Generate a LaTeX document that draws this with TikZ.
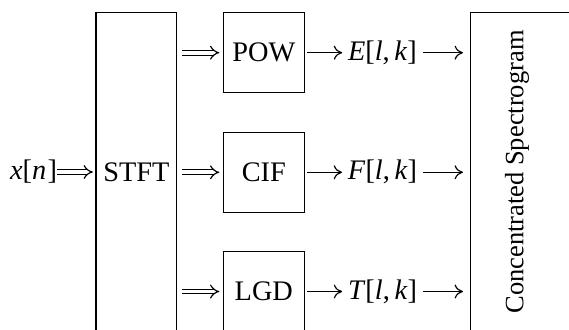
\documentclass[tikz,border=0pt]{standalone}
\usepackage{fontspec}
\setmainfont{Liberation Serif}
\usetikzlibrary{arrows.meta,positioning}
\tikzset{
	blk/.style={draw, minimum width=31.2pt, minimum height=30.8pt, inner sep=0, outer sep=0},
	tall/.style={draw, minimum height=122.8pt, inner sep=0, outer sep=0},
	txt/.style={inner sep=0, outer sep=0},
	imp/.style={double, double distance=1.4pt, -{Implies}},
	sig/.style={-{To[length=3.2pt,width=5.4pt]}}
}
\newcommand{\sgl}[1]{\textit{#1}[\textit{l},\,\textit{k}]}

\begin{document}
\begin{tikzpicture}[x=0.385pt, y=-0.385pt, line width=0.45pt,
		every node/.style={font=\fontsize{10.9}{13}\selectfont}]
	\useasboundingbox (0,0) rectangle (569,329);
	\clip (0,0) rectangle (569,329);

	\node[tall, minimum width=31pt] (stft) at (136.3,172) {STFT};
	\node[tall, minimum width=49.8pt, anchor=west] (conc) at (470.7,172) {};
	\node[txt, rotate=90, font=\fontsize{10.2}{12}\selectfont] (conclab) at (517,172) {Concentrated Spectrogram};

	\node[txt, anchor=east] (xn) at (57,172) {\textit{x}[\textit{n}\kern0.5pt]};

	\node[blk] (pow) at (263.8,52.7) {POW};
	\node[blk] (cif) at (263.8,172.3) {CIF};
	\node[blk] (lgd) at (263.8,291.5) {LGD};

	\node[txt] (el) at (382.5,52.7) {\sgl{E}};
	\node[txt] (fl) at (382.5,172.3) {\sgl{F}};
	\node[txt] (tl) at (382.5,291.5) {\sgl{T}};

	\draw[imp, shorten >=1.2pt] (xn) -- (stft.west |- xn);

	\foreach \b/\s in {pow/el, cif/fl, lgd/tl} {
		\draw[imp, shorten <=2.1pt, shorten >=1.5pt] (stft.east |- \b) -- (\b);
		\draw[sig, shorten <=1pt, shorten >=2.3pt] (\b) -- (\s);
		\draw[sig, shorten <=2.3pt, shorten >=3pt] (\s) -- (conc.west |- \s);
	}
\end{tikzpicture}
\end{document}
